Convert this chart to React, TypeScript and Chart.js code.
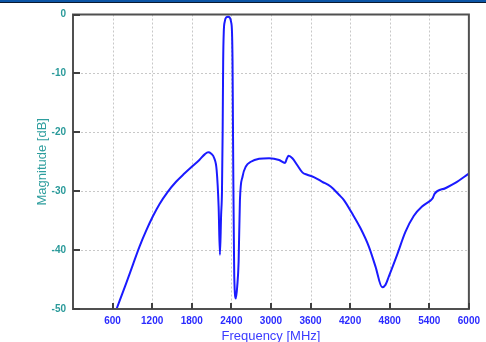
import React, { useEffect, useRef } from "react";
import { Chart, registerables } from "chart.js";

Chart.register(...registerables);

const freqMHz: number[] = [
  660, 807, 907, 1008, 1109, 1209, 1310, 1436, 1562, 1688, 1804, 1915, 2000, 2050, 2091, 2141, 2177, 2207, 2227,
  2245, 2258, 2268, 2276, 2285, 2300, 2320, 2350, 2375, 2395, 2410, 2418, 2424, 2430, 2438, 2444, 2469, 2490, 2510,
  2530, 2570, 2620, 2696, 2821, 2973, 3124, 3214, 3240, 3265, 3325, 3400, 3476, 3550, 3650, 3778, 3905, 4031, 4106,
  4232, 4358, 4484, 4585, 4685, 4736, 4786, 4912, 5038, 5164, 5290, 5416, 5451, 5482, 5643, 5794, 6000,
];
const magDb: number[] = [
  -50, -45.6, -42.5, -39.4, -36.7, -34.3, -32.2, -30.1, -28.4, -27.0, -25.8, -24.7, -23.7, -23.4, -23.6, -24.4, -26.4,
  -32.6, -40.8, -34, -30, -20, -8, -3, -1.2, -0.5, -0.4, -0.5, -1.2, -3, -8, -18, -28, -38, -44.5, -48.2, -46, -42,
  -31.5, -27.5, -25.8, -25.0, -24.5, -24.4, -24.7, -25.2, -24.5, -24.0, -24.4, -25.6, -26.8, -27.2, -27.6, -28.4, -29.2,
  -30.6, -31.5, -33.8, -36.3, -39.4, -42.8, -46.3, -45.9, -44.5, -40.8, -36.9, -34.2, -32.6, -31.6, -31.2, -30.4, -29.5,
  -28.6, -27.0,
];
const xTicks: number[] = [600, 1200, 1800, 2400, 3000, 3600, 4200, 4800, 5400, 6000];
const yTicks: number[] = [0, -10, -20, -30, -40, -50];

const FONT = "'Liberation Sans', Arial, sans-serif";

export default function App() {
  const ref = useRef<HTMLCanvasElement | null>(null);
  useEffect(() => {
    document.body.style.margin = "0";
    const canvas = ref.current!;
    const framePlugin = {
      id: "frame",
      beforeDatasetsDraw(chart: any) {
        const { ctx, chartArea: a, scales } = chart;
        ctx.save();
        ctx.strokeStyle = "#c8c8c8";
        ctx.lineWidth = 1;
        ctx.setLineDash([2, 2]);
        for (const v of xTicks) {
          if (v >= 6000) continue;
          const x = Math.round(scales.x.getPixelForValue(v)) + 0.5;
          ctx.beginPath();
          ctx.moveTo(x, a.top);
          ctx.lineTo(x, a.bottom);
          ctx.stroke();
        }
        for (const v of yTicks) {
          if (v === 0 || v === -50) continue;
          const y = Math.round(scales.y.getPixelForValue(v)) + 0.5;
          ctx.beginPath();
          ctx.moveTo(a.left, y);
          ctx.lineTo(a.right, y);
          ctx.stroke();
        }
        ctx.restore();
      },
      afterDatasetsDraw(chart: any) {
        const { ctx, chartArea: a, scales } = chart;
        ctx.save();
        ctx.strokeStyle = "#505050";
        ctx.lineWidth = 2;
        ctx.strokeRect(a.left, a.top, a.right - a.left, a.bottom - a.top);
        ctx.strokeStyle = "#404040";
        for (const v of xTicks) {
          const x = Math.round(scales.x.getPixelForValue(v));
          ctx.beginPath();
          ctx.moveTo(x, a.bottom);
          ctx.lineTo(x, a.bottom - 6);
          ctx.stroke();
        }
        for (const v of yTicks) {
          const y = Math.round(scales.y.getPixelForValue(v));
          ctx.beginPath();
          ctx.moveTo(a.left, y);
          ctx.lineTo(a.left + 7, y);
          ctx.stroke();
        }
        ctx.restore();
      },
    };
    const chart = new Chart(canvas, {
      type: "line",
      data: {
        datasets: [
          {
            data: freqMHz.map((f, i) => ({ x: f, y: magDb[i] })),
            borderColor: "#1a1aff",
            borderWidth: 2,
            pointRadius: 0,
            cubicInterpolationMode: "monotone",
            fill: false,
          },
        ],
      },
      options: {
        animation: false,
        responsive: false,
        maintainAspectRatio: false,
        layout: { padding: { left: 0, top: 14.5, right: 16, bottom: 0 } },
        plugins: { legend: { display: false }, tooltip: { enabled: false } },
        scales: {
          x: {
            type: "linear",
            min: 0,
            max: 6000,
            afterFit: (s: any) => {
              s.height = 33;
            },
            afterBuildTicks: (s: any) => {
              s.ticks = xTicks.map((v) => ({ value: v }));
            },
            grid: { display: false, drawTicks: false },
            border: { display: false },
            ticks: {
              padding: 6,
              maxRotation: 0,
              autoSkip: false,
              color: "#2b2bff",
              font: { family: FONT, size: 10, weight: "bold" },
              callback: (v: any) => String(v),
            },
            title: {
              display: true,
              text: "Frequency [MHz]",
              color: "#3b3bff",
              font: { family: FONT, size: 13, lineHeight: 1 },
              padding: { top: 0, bottom: -1 },
            },
          },
          y: {
            type: "linear",
            min: -50,
            max: 0,
            afterFit: (s: any) => {
              s.width = 73;
            },
            afterBuildTicks: (s: any) => {
              s.ticks = yTicks.map((v) => ({ value: v }));
            },
            grid: { display: false, drawTicks: false },
            border: { display: false },
            ticks: {
              padding: 7,
              autoSkip: false,
              color: "#2a9a9a",
              font: { family: FONT, size: 10, weight: "bold" },
              callback: (v: any) => String(v),
            },
            title: {
              display: true,
              text: "Magnitude [dB]",
              color: "#2e9e9e",
              font: { family: FONT, size: 13, lineHeight: 1.2 },
              padding: { top: 35, bottom: 0 },
            },
          },
        },
      },
      plugins: [framePlugin],
    } as any);
    return () => chart.destroy();
  }, []);
  return (
    <div style={{ position: "relative", width: 486, height: 342, background: "#fff" }}>
      <canvas ref={ref} width={486} height={342} style={{ display: "block", width: 486, height: 342 }} />
      <div
        style={{
          position: "absolute",
          left: 0,
          top: 0,
          width: 486,
          height: 2,
          background: "#0b55a6",
          borderBottom: "1px solid #0a1a30",
        }}
      />
    </div>
  );
}
